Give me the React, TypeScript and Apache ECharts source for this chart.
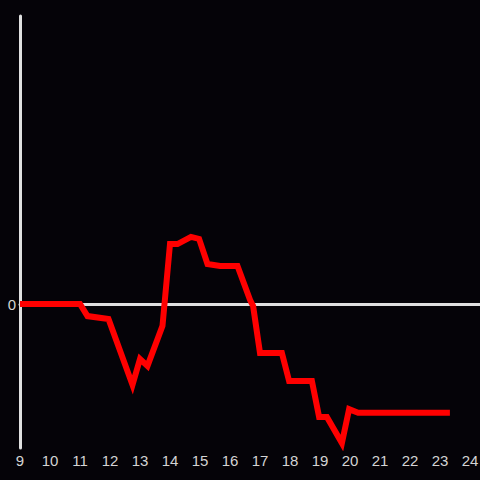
import React, { useEffect, useRef } from "react";
import * as echarts from "echarts";

const hours: number[] = [9, 11, 11.25, 11.95, 12.75, 13.0, 13.25, 13.75, 14.0, 14.25, 14.7, 14.97, 15.25, 15.67, 16.25, 16.67, 16.77, 17.0, 17.73, 17.97, 18.73, 18.97, 19.23, 19.73, 19.97, 20.27, 23.33];
const values: number[] = [0, 0, -4.2, -5.2, -28.1, -19.1, -21.5, -7.6, 20.8, 20.8, 23.3, 22.6, 13.9, 13.2, 13.2, 1.4, -0.7, -17.0, -17.0, -26.7, -26.7, -39.2, -39.2, -48.3, -36.5, -37.8, -37.8];
const xTicks: number[] = [9, 10, 11, 12, 13, 14, 15, 16, 17, 18, 19, 20, 21, 22, 23, 24];
const yLabels: number[] = [0];

export default function App() {
  const ref = useRef<HTMLDivElement>(null);
  useEffect(() => {
    if (!ref.current) return;
    const chart = echarts.init(ref.current, undefined, { renderer: "svg" });
    const data = hours.map((h, i) => [h, values[i]]);
    const axisColor = "#e0e0e0";
    const labelColor = "#d4d4d4";
    const font = "Liberation Sans, Arial, sans-serif";
    chart.setOption({
      animation: false,
      backgroundColor: "#050308",
      grid: { left: 20, right: 0, top: 16, bottom: 32, containLabel: false, outerBoundsMode: "none" },
      xAxis: [
        {
          type: "value",
          min: 9,
          max: 9 + 460 / 30,
          interval: 1,
          axisLine: { show: false, onZero: false },
          axisTick: { show: false },
          splitLine: { show: false },
          axisLabel: {
            color: labelColor,
            fontSize: 15,
            margin: 5,
            fontFamily: font,
            formatter: (v: number) => (xTicks.includes(v) ? String(v) : ""),
          },
        },
        {
          type: "value",
          min: 9,
          max: 9 + 460 / 30,
          interval: 1,
          position: "bottom",
          axisLine: { show: true, onZero: true, lineStyle: { color: axisColor, width: 3 } },
          axisTick: { show: false },
          splitLine: { show: false },
          axisLabel: { show: false },
        },
      ],
      yAxis: {
        type: "value",
        min: -50,
        max: 100,
        interval: 50,
        axisLine: { show: true, lineStyle: { color: axisColor, width: 3 } },
        axisTick: { show: false },
        splitLine: { show: false },
        axisLabel: {
          color: labelColor,
          fontSize: 15,
          margin: 4,
          fontFamily: font,
          formatter: (v: number) => (yLabels.includes(v) ? String(v) : ""),
        },
      },
      series: [
        {
          type: "line",
          data,
          xAxisIndex: 0,
          showSymbol: false,
          symbol: "none",
          lineStyle: { color: "#ff0000", width: 6, join: "miter" },
          z: 5,
        },
      ],
    });
    return () => chart.dispose();
  }, []);
  return <div ref={ref} style={{ position: "fixed", left: 0, top: 0, width: 480, height: 480 }} />;
}
